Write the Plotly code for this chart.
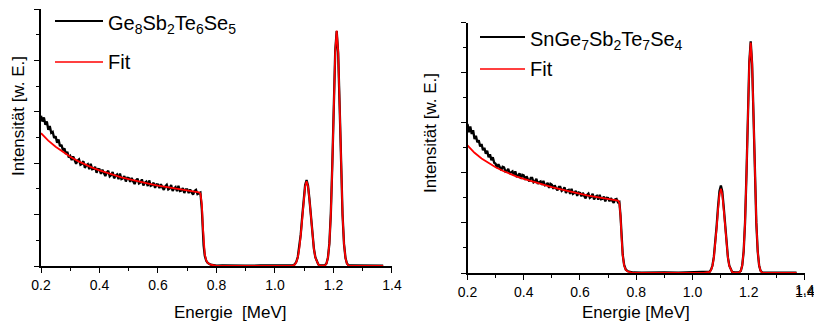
import plotly.graph_objects as go

# ---------------- Left panel: Ge8Sb2Te6Se5 ----------------
left_meas_E = [round(0.200 + 0.005 * i, 3) for i in range(110)]
left_meas_I = [5.85, 5.62, 5.78, 5.50, 5.62, 5.30, 5.45, 5.18, 5.22, 4.98,
               5.05, 4.80, 4.92, 4.66, 4.72, 4.50, 4.58, 4.36, 4.44, 4.22,
               4.28, 4.12, 4.26, 4.10, 3.98, 4.10, 4.15, 3.94, 3.97, 4.08,
               3.82, 3.92, 3.96, 3.77, 3.98, 3.76, 3.78, 3.86, 3.63, 3.77,
               3.76, 3.58, 3.75, 3.62, 3.50, 3.64, 3.70, 3.49, 3.54, 3.66,
               3.41, 3.51, 3.56, 3.38, 3.60, 3.38, 3.41, 3.50, 3.29, 3.43,
               3.42, 3.27, 3.43, 3.30, 3.19, 3.33, 3.40, 3.21, 3.25, 3.37,
               3.13, 3.24, 3.28, 3.11, 3.33, 3.12, 3.15, 3.24, 3.04, 3.18,
               3.17, 3.03, 3.18, 3.06, 2.96, 3.10, 3.16, 2.98, 3.02, 3.15,
               2.92, 3.02, 3.07, 2.91, 3.12, 2.92, 2.94, 3.03, 2.84, 2.98,
               2.98, 2.84, 2.98, 2.86, 2.78, 2.92, 2.96, 2.80, 2.84, 2.86]
left_meas_E2 = [0.750, 0.753, 0.756, 0.760, 0.765, 0.770, 0.775, 0.780, 0.790, 0.800,
                0.820, 0.850, 0.880, 0.900, 0.950, 1.000, 1.050, 1.060, 1.068, 1.073,
                1.078, 1.083, 1.088, 1.093, 1.098, 1.103, 1.108, 1.113, 1.118, 1.123,
                1.128, 1.133, 1.138, 1.143, 1.148, 1.155, 1.170, 1.176, 1.181, 1.186,
                1.191, 1.196, 1.201, 1.206, 1.211, 1.216, 1.221, 1.226, 1.231, 1.236,
                1.241, 1.246, 1.252, 1.260, 1.300, 1.340, 1.370]
left_meas_I2 = [2.20, 1.40, 0.80, 0.40, 0.20, 0.12, 0.08, 0.05, 0.03, 0.01,
                0.02, 0.01, 0.02, 0.01, 0.02, 0.01, 0.02, 0.02, 0.07, 0.16,
                0.35, 0.70, 1.22, 1.90, 2.60, 3.14, 3.34, 3.12, 2.58, 1.88,
                1.20, 0.68, 0.34, 0.15, 0.06, 0.02, 0.02, 0.10, 0.32, 0.88,
                2.05, 3.95, 6.30, 8.36, 9.14, 8.30, 6.25, 3.90, 2.00, 0.86,
                0.32, 0.10, 0.02, 0.02, 0.01, 0.02, 0.01]

left_fit_E = [0.200, 0.225, 0.250, 0.275, 0.300, 0.325, 0.350, 0.375, 0.400, 0.425,
              0.450, 0.475, 0.500, 0.525, 0.550, 0.575, 0.600, 0.625, 0.650, 0.675,
              0.700, 0.725, 0.740, 0.745, 0.750, 0.753, 0.756, 0.760, 0.765, 0.770,
              0.780, 0.790, 0.800, 1.050, 1.060, 1.068, 1.073, 1.078, 1.083, 1.088,
              1.093, 1.098, 1.103, 1.108, 1.113, 1.118, 1.123, 1.128, 1.133, 1.138,
              1.143, 1.148, 1.155, 1.170, 1.176, 1.181, 1.186, 1.191, 1.196, 1.201,
              1.206, 1.211, 1.216, 1.221, 1.226, 1.231, 1.236, 1.241, 1.246, 1.252,
              1.260, 1.370]
left_fit_I = [5.17, 4.88, 4.64, 4.43, 4.25, 4.09, 3.95, 3.83, 3.72, 3.62,
              3.53, 3.45, 3.38, 3.31, 3.25, 3.19, 3.13, 3.08, 3.03, 2.98,
              2.94, 2.90, 2.87, 2.82, 2.40, 1.60, 0.90, 0.45, 0.22, 0.12,
              0.05, 0.02, 0.00, 0.00, 0.01, 0.06, 0.15, 0.33, 0.67, 1.19,
              1.86, 2.56, 3.10, 3.30, 3.10, 2.56, 1.86, 1.19, 0.67, 0.33,
              0.15, 0.06, 0.01, 0.01, 0.09, 0.31, 0.86, 2.02, 3.91, 6.28,
              8.34, 9.16, 8.34, 6.28, 3.91, 2.02, 0.86, 0.31, 0.09, 0.01,
              0.00, 0.00]

# ---------------- Right panel: SnGe7Sb2Te7Se4 ----------------
right_meas_E = [round(0.200 + 0.005 * i, 3) for i in range(109)]
right_meas_I = [5.95, 5.62, 5.85, 5.55, 5.70, 5.35, 5.48, 5.22, 5.30, 5.05,
                5.15, 4.90, 5.00, 4.76, 4.88, 4.62, 4.74, 4.50, 4.62, 4.40,
                4.36, 4.20, 4.34, 4.18, 4.10, 4.24, 4.22, 4.05, 4.08, 4.16,
                3.96, 4.02, 4.06, 3.90, 4.06, 3.86, 3.88, 3.98, 3.76, 3.92,
                3.90, 3.72, 3.86, 3.74, 3.66, 3.80, 3.80, 3.62, 3.66, 3.76,
                3.56, 3.63, 3.66, 3.52, 3.68, 3.50, 3.52, 3.60, 3.40, 3.56,
                3.52, 3.36, 3.50, 3.38, 3.30, 3.44, 3.44, 3.28, 3.32, 3.42,
                3.20, 3.30, 3.32, 3.16, 3.36, 3.16, 3.20, 3.28, 3.08, 3.22,
                3.20, 3.06, 3.20, 3.08, 2.98, 3.12, 3.17, 3.00, 3.04, 3.16,
                2.94, 3.04, 3.08, 2.93, 3.12, 2.94, 2.96, 3.05, 2.86, 3.00,
                2.99, 2.86, 2.99, 2.88, 2.80, 2.94, 2.96, 2.82, 2.84]
right_meas_E2 = [0.744, 0.748, 0.752, 0.757, 0.763, 0.770, 0.780, 0.790, 0.820, 0.850,
                 0.880, 0.900, 0.950, 1.000, 1.040, 1.061, 1.066, 1.071, 1.076, 1.081,
                 1.086, 1.091, 1.096, 1.101, 1.106, 1.111, 1.116, 1.121, 1.126, 1.131,
                 1.136, 1.141, 1.150, 1.165, 1.172, 1.177, 1.182, 1.187, 1.192, 1.197,
                 1.202, 1.207, 1.212, 1.217, 1.222, 1.227, 1.232, 1.237, 1.242, 1.248,
                 1.260, 1.300, 1.340, 1.370]
right_meas_I2 = [2.30, 1.40, 0.72, 0.32, 0.13, 0.07, 0.03, 0.02, 0.01, 0.02,
                 0.01, 0.02, 0.01, 0.02, 0.02, 0.05, 0.13, 0.30, 0.64, 1.17,
                 1.89, 2.66, 3.28, 3.49, 3.26, 2.64, 1.87, 1.15, 0.62, 0.29,
                 0.12, 0.04, 0.02, 0.02, 0.09, 0.31, 0.86, 2.03, 3.95, 6.32,
                 8.40, 9.25, 8.36, 6.28, 3.90, 2.00, 0.85, 0.30, 0.09, 0.02,
                 0.01, 0.02, 0.01, 0.01]

right_fit_E = [0.200, 0.225, 0.250, 0.275, 0.300, 0.325, 0.350, 0.375, 0.400, 0.425,
               0.450, 0.475, 0.500, 0.525, 0.550, 0.575, 0.600, 0.625, 0.650, 0.675,
               0.700, 0.725, 0.735, 0.740, 0.744, 0.748, 0.752, 0.757, 0.763, 0.770,
               0.780, 0.790, 1.040, 1.061, 1.066, 1.071, 1.076, 1.081, 1.086, 1.091,
               1.096, 1.101, 1.106, 1.111, 1.116, 1.121, 1.126, 1.131, 1.136, 1.141,
               1.150, 1.165, 1.172, 1.177, 1.182, 1.187, 1.192, 1.197, 1.202, 1.207,
               1.212, 1.217, 1.222, 1.227, 1.232, 1.237, 1.242, 1.248, 1.260, 1.370]
right_fit_I = [5.09, 4.80, 4.57, 4.38, 4.22, 4.08, 3.96, 3.85, 3.76, 3.67,
               3.58, 3.50, 3.43, 3.36, 3.29, 3.22, 3.16, 3.10, 3.05, 3.00,
               2.95, 2.90, 2.89, 2.80, 2.30, 1.40, 0.70, 0.30, 0.12, 0.06,
               0.02, 0.00, 0.00, 0.04, 0.12, 0.28, 0.61, 1.12, 1.81, 2.55,
               3.14, 3.36, 3.14, 2.55, 1.81, 1.12, 0.61, 0.28, 0.12, 0.04,
               0.01, 0.01, 0.09, 0.31, 0.86, 2.03, 3.93, 6.30, 8.38, 9.20,
               8.38, 6.30, 3.93, 2.03, 0.86, 0.31, 0.09, 0.01, 0.00, 0.00]

x_tick_vals = [0.2, 0.4, 0.6, 0.8, 1.0, 1.2, 1.4]
x_tick_text = ["0.2", "0.4", "0.6", "0.8", "1.0", "1.2", "1.4"]

left_label = "Ge<sub>8</sub>Sb<sub>2</sub>Te<sub>6</sub>Se<sub>5</sub>"
right_label = "SnGe<sub>7</sub>Sb<sub>2</sub>Te<sub>7</sub>Se<sub>4</sub>"
fit_label = "Fit"
x_title_left = "Energie  [MeV]"
x_title_right = "Energie [MeV]"
y_title = "Intensität [w. E.]"

W, H = 814, 324
FONT = "Liberation Sans, Arial, sans-serif"

fig = go.Figure()
black_w, red_w = 2.3, 1.8
fig.add_trace(go.Scatter(x=left_meas_E + left_meas_E2, y=left_meas_I + left_meas_I2,
                         mode="lines", line=dict(color="black", width=black_w),
                         xaxis="x", yaxis="y", showlegend=False))
fig.add_trace(go.Scatter(x=left_fit_E, y=left_fit_I, mode="lines",
                         line=dict(color="#ff0000", width=red_w),
                         xaxis="x", yaxis="y", showlegend=False))
fig.add_trace(go.Scatter(x=right_meas_E + right_meas_E2, y=right_meas_I + right_meas_I2,
                         mode="lines", line=dict(color="black", width=black_w),
                         xaxis="x2", yaxis="y2", showlegend=False))
fig.add_trace(go.Scatter(x=right_fit_E, y=right_fit_I, mode="lines",
                         line=dict(color="#ff0000", width=red_w),
                         xaxis="x2", yaxis="y2", showlegend=False))

# axis pixel geometry
L = dict(x0=41, x1=392, yb=266, yt=9)
R = dict(x0=467.5, x1=805, yb=273, yt=22.5)

def px(v):
    return v / W

def py(v):
    return 1 - v / H

xcommon = dict(range=[0.2, 1.4001], tickmode="array", tickvals=x_tick_vals,
               ticktext=x_tick_text, ticks="outside", ticklen=5,
               tickwidth=1.3, tickcolor="black", showline=True, linecolor="black",
               linewidth=1.5, showgrid=False, zeroline=False,
               automargin=False, ticklabeloverflow="allow",
               tickfont=dict(family=FONT, size=14, color="black"),
               minor=dict(dtick=0.1, tick0=0.2, ticks="outside", ticklen=3,
                          tickwidth=1.2, tickcolor="black", showgrid=False))
ycommon = dict(range=[0, 10], dtick=2, tick0=0, ticks="outside", ticklen=5,
               tickwidth=1.3, tickcolor="black", showline=True, linecolor="black",
               linewidth=1.5, showgrid=False, zeroline=False, showticklabels=False,
               automargin=False,
               minor=dict(dtick=1, tick0=0, ticks="outside", ticklen=3,
                          tickwidth=1.2, tickcolor="black", showgrid=False))

fig.update_layout(
    width=W, height=H, margin=dict(l=0, r=0, t=0, b=0, autoexpand=False),
    paper_bgcolor="white", plot_bgcolor="white",
    xaxis=dict(domain=[px(L["x0"]), px(L["x1"])], anchor="y", **xcommon),
    yaxis=dict(domain=[py(L["yb"]), py(L["yt"])], anchor="x", **ycommon),
    xaxis2=dict(domain=[px(R["x0"]), px(R["x1"])], anchor="y2", **xcommon),
    yaxis2=dict(domain=[py(R["yb"]), py(R["yt"])], anchor="x2", **ycommon),
    font=dict(family=FONT, color="black"),
)

shapes = []
ann = []
# legends (manual, in paper coordinates)
for (lx0, lx1, ty1, ty2, lab) in [(55, 103, 21, 62, left_label), (480, 525, 37, 69, right_label)]:
    shapes.append(dict(type="line", xref="paper", yref="paper", x0=px(lx0), x1=px(lx1),
                       y0=py(ty1), y1=py(ty1), line=dict(color="black", width=2.2)))
    shapes.append(dict(type="line", xref="paper", yref="paper", x0=px(lx0), x1=px(lx1),
                       y0=py(ty2), y1=py(ty2), line=dict(color="#ff0000", width=1.6)))
    ann.append(dict(text=lab, xref="paper", yref="paper", x=px(lx1 + 3), y=py(ty1 - 11),
                    xanchor="left", yanchor="top", showarrow=False,
                    font=dict(family=FONT, size=20, color="black")))
    ann.append(dict(text=fit_label, xref="paper", yref="paper", x=px(lx1 + 3), y=py(ty2),
                    xanchor="left", yanchor="middle", showarrow=False,
                    font=dict(family=FONT, size=20, color="black")))

# last tick label of the right axis sits at the page edge; place it explicitly
ann.append(dict(text=x_tick_text[-1], xref="x2", yref="paper", x=x_tick_vals[-1], y=py(289.5),
                xanchor="center", yanchor="middle", showarrow=False,
                font=dict(family=FONT, size=14, color="black")))

# axis titles
ann.append(dict(text=x_title_left, xref="paper", yref="paper", x=px(229.5), y=py(312),
                xanchor="center", yanchor="middle", showarrow=False,
                font=dict(family=FONT, size=17, color="black")))
ann.append(dict(text=x_title_right, xref="paper", yref="paper", x=px(636), y=py(312),
                xanchor="center", yanchor="middle", showarrow=False,
                font=dict(family=FONT, size=17, color="black")))
ann.append(dict(text=y_title, xref="paper", yref="paper", x=px(18), y=py(116),
                xanchor="center", yanchor="middle", textangle=-90, showarrow=False,
                font=dict(family=FONT, size=17, color="black")))
ann.append(dict(text=y_title, xref="paper", yref="paper", x=px(430), y=py(133),
                xanchor="center", yanchor="middle", textangle=-90, showarrow=False,
                font=dict(family=FONT, size=17, color="black")))

fig.update_layout(shapes=shapes, annotations=ann)
fig.write_html("out.html", config={"displayModeBar": False},
               post_script="document.body.style.margin='0px';document.body.style.overflow='hidden';")
